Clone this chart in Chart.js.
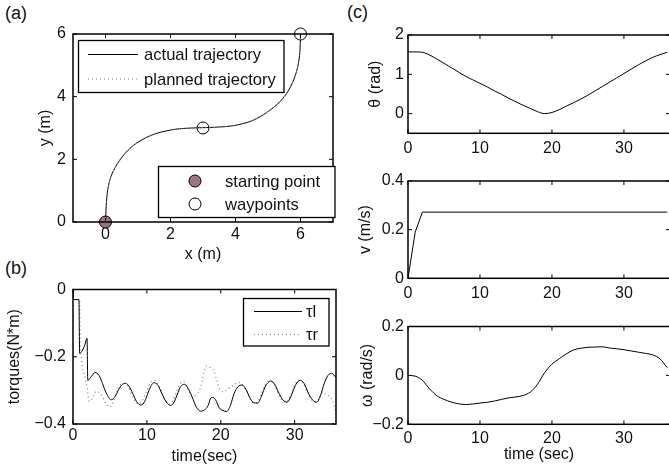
<!DOCTYPE html>
<html>
<head>
<meta charset="utf-8">
<script src="https://cdn.jsdelivr.net/npm/chart.js@4.4.1/dist/chart.umd.min.js"></script>
<style>
  html, body { margin: 0; padding: 0; background: #fff; overflow: hidden; }
  body { width: 669px; height: 475px; position: relative; font-family: 'Liberation Sans', Arial, sans-serif; }
  canvas { position: absolute; }
  .tag { position: absolute; font-size: 18px; color: #111; }
</style>
</head>
<body>
<div class="tag" style="left:5px;top:3px">(a)</div>
<div class="tag" style="left:5px;top:258px">(b)</div>
<div class="tag" style="left:347px;top:2px">(c)</div>
<canvas id="ca" width="340" height="268" style="left:0;top:0"></canvas>
<canvas id="cb" width="340" height="213" style="left:0;top:262px"></canvas>
<canvas id="cth" width="335" height="160" style="left:340px;top:0"></canvas>
<canvas id="cv" width="335" height="145" style="left:340px;top:160px"></canvas>
<canvas id="cw" width="335" height="170" style="left:340px;top:305px"></canvas>
<script>
// (a) trajectory
const pathX = [0, 0.01, 0.02, 0.07, 0.17, 0.32, 0.53, 0.83, 1.24, 1.64, 2.15, 2.65, 2.98, 3.47, 3.97, 4.48, 4.88, 5.29, 5.59, 5.8, 5.92, 5.98, 6];
const pathY = [0, 0.25, 0.5, 1.04, 1.46, 1.78, 2.1, 2.42, 2.69, 2.85, 2.96, 3.0, 3.01, 3.03, 3.08, 3.22, 3.44, 3.76, 4.13, 4.56, 4.98, 5.41, 6];
const startX = [0], startY = [0];
const wayX = [3, 6], wayY = [3, 6];
const aXTicks = [0, 2, 4, 6], aYTicks = [0, 2, 4, 6];

// (b) wheel torques
const tlT = [0, 0.1, 0.8, 0.9, 1.3, 1.6, 1.9, 2.0, 2.5, 3.0, 3.5, 4.0, 4.5, 5.2, 5.7, 6.2, 6.6, 7.1, 7.6, 8.1, 8.6, 9.2, 9.7, 10.2, 10.6, 11.0, 11.5, 12.0, 12.6, 13.2, 13.7, 14.2, 14.6, 15.1, 15.6, 16.1, 16.7, 17.3, 17.8, 18.3, 18.6, 18.9, 19.3, 19.8, 20.3, 20.8, 21.3, 21.8, 22.3, 22.9, 23.4, 23.9, 24.4, 25.0, 25.5, 26.0, 26.4, 26.8, 27.3, 27.8, 28.4, 29.0, 29.5, 30.0, 30.4, 30.8, 31.3, 31.8, 32.4, 33.0, 33.5, 34.0, 34.5, 35.0, 35.6];
const tlV = [-0.005, -0.03, -0.03, -0.19, -0.18, -0.165, -0.145, -0.27, -0.258, -0.247, -0.255, -0.28, -0.308, -0.328, -0.318, -0.297, -0.284, -0.279, -0.288, -0.31, -0.333, -0.344, -0.333, -0.305, -0.285, -0.277, -0.285, -0.308, -0.334, -0.345, -0.334, -0.307, -0.288, -0.282, -0.295, -0.318, -0.35, -0.362, -0.358, -0.345, -0.325, -0.321, -0.328, -0.352, -0.36, -0.363, -0.345, -0.31, -0.29, -0.284, -0.296, -0.32, -0.336, -0.338, -0.318, -0.29, -0.277, -0.272, -0.282, -0.305, -0.328, -0.335, -0.318, -0.29, -0.275, -0.27, -0.28, -0.305, -0.328, -0.335, -0.315, -0.28, -0.256, -0.249, -0.262];
const trT = [0, 0.1, 0.9, 1.0, 1.1, 1.3, 1.6, 1.9, 2.2, 2.6, 3.1, 3.7, 4.2, 4.6, 5.0, 5.5, 6.0, 6.5, 7.0, 7.5, 8.0, 8.5, 9.0, 9.5, 10.0, 10.5, 11.0, 11.5, 12.0, 12.5, 13.0, 13.5, 14.0, 14.5, 15.0, 15.7, 16.2, 16.8, 17.3, 17.7, 18.1, 18.5, 19.1, 19.5, 19.8, 20.2, 20.8, 21.3, 21.8, 22.3, 22.8, 23.4, 24.0, 24.5, 25.0, 25.5, 26.0, 26.5, 27.0, 27.5, 28.0, 28.6, 29.1, 29.6, 30.1, 30.6, 31.1, 31.6, 32.2, 32.8, 33.3, 33.8, 34.3, 34.8, 35.2, 35.6];
const trV = [-0.005, -0.03, -0.03, -0.19, -0.2, -0.235, -0.26, -0.29, -0.333, -0.325, -0.304, -0.308, -0.328, -0.343, -0.35, -0.33, -0.3, -0.282, -0.28, -0.29, -0.315, -0.335, -0.34, -0.325, -0.3, -0.278, -0.27, -0.28, -0.305, -0.33, -0.34, -0.33, -0.305, -0.28, -0.274, -0.304, -0.318, -0.31, -0.289, -0.249, -0.227, -0.231, -0.244, -0.274, -0.293, -0.304, -0.3, -0.29, -0.284, -0.276, -0.282, -0.3, -0.325, -0.337, -0.333, -0.31, -0.285, -0.273, -0.275, -0.295, -0.32, -0.335, -0.33, -0.305, -0.28, -0.27, -0.278, -0.3, -0.325, -0.335, -0.325, -0.305, -0.313, -0.32, -0.333, -0.37];
const bXTicks = [0, 10, 20, 30], bYTicks = [-0.4, -0.2, 0];

// (c) heading, speed, turn rate
const cTime = [0, 1, 2, 3, 4, 5, 6, 7, 8, 9, 10, 11, 12, 13, 14, 15, 16, 17, 18, 19, 20, 21, 22, 23, 24, 25, 26, 27, 28, 29, 30, 31, 32, 33, 34, 35, 36];
const theta = [1.57, 1.57, 1.56, 1.49, 1.39, 1.28, 1.17, 1.06, 0.95, 0.86, 0.77, 0.68, 0.58, 0.49, 0.39, 0.3, 0.21, 0.13, 0.05, 0.0, 0.03, 0.1, 0.19, 0.28, 0.37, 0.47, 0.58, 0.69, 0.8, 0.91, 1.02, 1.13, 1.24, 1.34, 1.43, 1.5, 1.56];
const omega = [0, -0.003, -0.02, -0.055, -0.083, -0.098, -0.109, -0.116, -0.119, -0.117, -0.113, -0.11, -0.105, -0.098, -0.092, -0.088, -0.082, -0.068, -0.036, 0.012, 0.046, 0.068, 0.088, 0.104, 0.111, 0.115, 0.116, 0.117, 0.112, 0.109, 0.105, 0.1, 0.095, 0.09, 0.084, 0.068, 0.032];
const vT = [0, 1, 2, 36];
const vV = [0, 0.19, 0.272, 0.272];
const cXTicks = [0, 10, 20, 30];
const thetaTicks = [0, 1, 2], vTicks = [0, 0.2, 0.4], omegaTicks = [-0.2, 0, 0.2];

Chart.defaults.font.family = "'Liberation Sans', Arial, sans-serif";
Chart.defaults.font.size = 16;
Chart.defaults.color = '#111';

const pts = (xs, ys) => xs.map((x, i) => ({ x: x, y: ys[i] }));
const fmt = v => (v < 0 ? '\u2212' + Math.abs(v) : String(v));

// matlab style box with inward ticks
const boxPlugin = {
    id: 'matBox',
    afterDatasetsDraw(chart, args, opts) {
        const { ctx, chartArea: a, scales: { x, y } } = chart;
        ctx.save();
        ctx.strokeStyle = '#000';
        ctx.lineWidth = 1.5;
        ctx.strokeRect(a.left, a.top, a.right - a.left, a.bottom - a.top);
        ctx.lineWidth = 1;
        ctx.beginPath();
        x.ticks.forEach(t => {
            const p = x.getPixelForValue(t.value);
            ctx.moveTo(p, a.bottom); ctx.lineTo(p, a.bottom - 4);
            ctx.moveTo(p, a.top); ctx.lineTo(p, a.top + 4);
        });
        y.ticks.forEach(t => {
            const p = y.getPixelForValue(t.value);
            ctx.moveTo(a.left, p); ctx.lineTo(a.left + 4, p);
            ctx.moveTo(a.right, p); ctx.lineTo(a.right - 4, p);
        });
        ctx.stroke();
        ctx.restore();
    }
};

// legends drawn in boxes, from the datasets' own styles
const boxLegend = {
    id: 'boxLegend',
    afterDraw(chart, args, opts) {
        const ctx = chart.ctx;
        (opts.boxes || []).forEach(b => {
            ctx.save();
            ctx.fillStyle = '#fff';
            ctx.fillRect(b.x0, b.y0, b.x1 - b.x0, b.y1 - b.y0);
            ctx.strokeStyle = '#000';
            ctx.lineWidth = 1.3;
            ctx.strokeRect(b.x0, b.y0, b.x1 - b.x0, b.y1 - b.y0);
            b.items.forEach(it => {
                const ds = chart.data.datasets[it.ds];
                if (it.marker) {
                    ctx.beginPath();
                    ctx.arc(it.mx, it.y, ds.pointRadius, 0, Math.PI * 2);
                    ctx.fillStyle = ds.pointBackgroundColor;
                    ctx.fill();
                    ctx.lineWidth = 1;
                    ctx.strokeStyle = ds.pointBorderColor;
                    ctx.stroke();
                } else {
                    ctx.beginPath();
                    ctx.setLineDash(ds.borderDash || []);
                    ctx.strokeStyle = ds.borderColor;
                    ctx.lineWidth = ds.borderWidth;
                    ctx.moveTo(it.l0, it.y);
                    ctx.lineTo(it.l1, it.y);
                    ctx.stroke();
                    ctx.setLineDash([]);
                }
                ctx.fillStyle = '#111';
                ctx.font = "16.6px 'Liberation Sans', Arial, sans-serif";
                ctx.textAlign = 'left';
                ctx.textBaseline = 'middle';
                ctx.fillText(ds.label, it.tx, it.y + 1);
            });
            ctx.restore();
        });
    }
};

function axis(min, max, ticks, size, fit, title, titlePad, tickPad) {
    const horiz = fit === 'h';
    return {
        type: 'linear', min: min, max: max,
        grid: { display: false, drawTicks: false }, border: { display: false },
        ticks: { padding: tickPad, callback: v => fmt(v), maxRotation: 0 },
        afterBuildTicks: s => { s.ticks = ticks.map(v => ({ value: v })); },
        afterFit: s => { if (horiz) s.height = size; else s.width = size; },
        title: title ? {
            display: true, text: title, color: '#111',
            padding: horiz ? { top: 0, bottom: titlePad } : { top: titlePad, bottom: 0 }
        } : { display: false }
    };
}

function panel(id, datasets, xAx, yAx, pad, legendBoxes) {
    return new Chart(document.getElementById(id), {
        type: 'line',
        data: { datasets: datasets },
        options: {
            responsive: false, animation: false,
            layout: { padding: pad },
            elements: { point: { radius: 0 } },
            scales: { x: xAx, y: yAx },
            plugins: {
                legend: { display: false }, tooltip: { enabled: false },
                boxLegend: { boxes: legendBoxes || [] }
            }
        },
        plugins: [boxPlugin, boxLegend]
    });
}

const solid = { borderColor: '#000', borderWidth: 1, pointRadius: 0, fill: false };
const dotted = { borderColor: '#808080', borderWidth: 1.2, borderDash: [1, 3], pointRadius: 0, fill: false };

// (a)
panel('ca', [
    Object.assign({ label: 'planned trajectory', data: pts(pathX, pathY), tension: 0.3 }, dotted),
    Object.assign({ label: 'actual trajectory', data: pts(pathX, pathY), tension: 0.3 }, solid),
    { label: 'starting point', data: pts(startX, startY), showLine: false, pointRadius: 6,
      pointBackgroundColor: '#9a7682', pointBorderColor: '#000', pointBorderWidth: 1, clip: false },
    { label: 'waypoints', data: pts(wayX, wayY), showLine: false, pointRadius: 6,
      pointBackgroundColor: '#fff', pointBorderColor: '#000', pointBorderWidth: 1, clip: false }
], axis(-1, 7, aXTicks, 46, 'h', 'x (m)', 3.4, 3),
   axis(0, 6, aYTicks, 73, 'v', 'y (m)', 36.4, 7),
   { top: 34, right: 4, left: 0, bottom: 0 },
   [
    { x0: 78.5, y0: 40.5, x1: 284, y1: 92.5, items: [
        { ds: 1, l0: 88, l1: 138, y: 54.5, tx: 144 },
        { ds: 0, l0: 88, l1: 138, y: 79, tx: 144 } ] },
    { x0: 158.5, y0: 166.5, x1: 335, y1: 217.5, items: [
        { ds: 2, marker: true, mx: 195, y: 181, tx: 225 },
        { ds: 3, marker: true, mx: 195, y: 204, tx: 225 } ] }
   ]);

// (b)
panel('cb', [
    Object.assign({ label: '\u03c4l', data: pts(tlT, tlV), cubicInterpolationMode: 'monotone' }, solid),
    Object.assign({ label: '\u03c4r', data: pts(trT, trV), cubicInterpolationMode: 'monotone' }, dotted)
], axis(0, 35.6, bXTicks, 51, 'h', 'time(sec)', 8.5, 2),
   axis(-0.4, 0, bYTicks, 73, 'v', 'torques(N*m)', 5.4, 7),
   { top: 27.5, right: 4, left: 0, bottom: 0 },
   [
    { x0: 243.5, y0: 36.5, x1: 329, y1: 84, items: [
        { ds: 0, l0: 254, l1: 302, y: 49.5, tx: 306 },
        { ds: 1, l0: 254, l1: 302, y: 72.5, tx: 306 } ] }
   ]);

// (c)
panel('cth', [
    Object.assign({ label: 'theta', data: pts(cTime, theta), cubicInterpolationMode: 'monotone' }, solid)
], axis(0, 36.4, cXTicks, 26.7, 'h', null, 0, 6),
   axis(-0.5, 2, thetaTicks, 68, 'v', '\u03b8 (rad)', 26.4, 4),
   { top: 35, right: 5, left: 0, bottom: 0 });

panel('cv', [
    Object.assign({ label: 'v', data: pts(vT, vV) }, solid)
], axis(0, 36.4, cXTicks, 26.7, 'h', null, 0, 6),
   axis(0, 0.4, vTicks, 68, 'v', 'v (m/s)', 16.4, 4),
   { top: 21, right: 5, left: 0, bottom: 0 });

panel('cw', [
    Object.assign({ label: 'omega', data: pts(cTime, omega), cubicInterpolationMode: 'monotone' }, solid)
], axis(0, 36.4, cXTicks, 50.7, 'h', 'time (sec)', 10.4, 5),
   axis(-0.2, 0.2, omegaTicks, 68, 'v', '\u03c9 (rad/s)', 18.4, 4),
   { top: 21.5, right: 5, left: 0, bottom: 0 });
</script>
</body>
</html>
